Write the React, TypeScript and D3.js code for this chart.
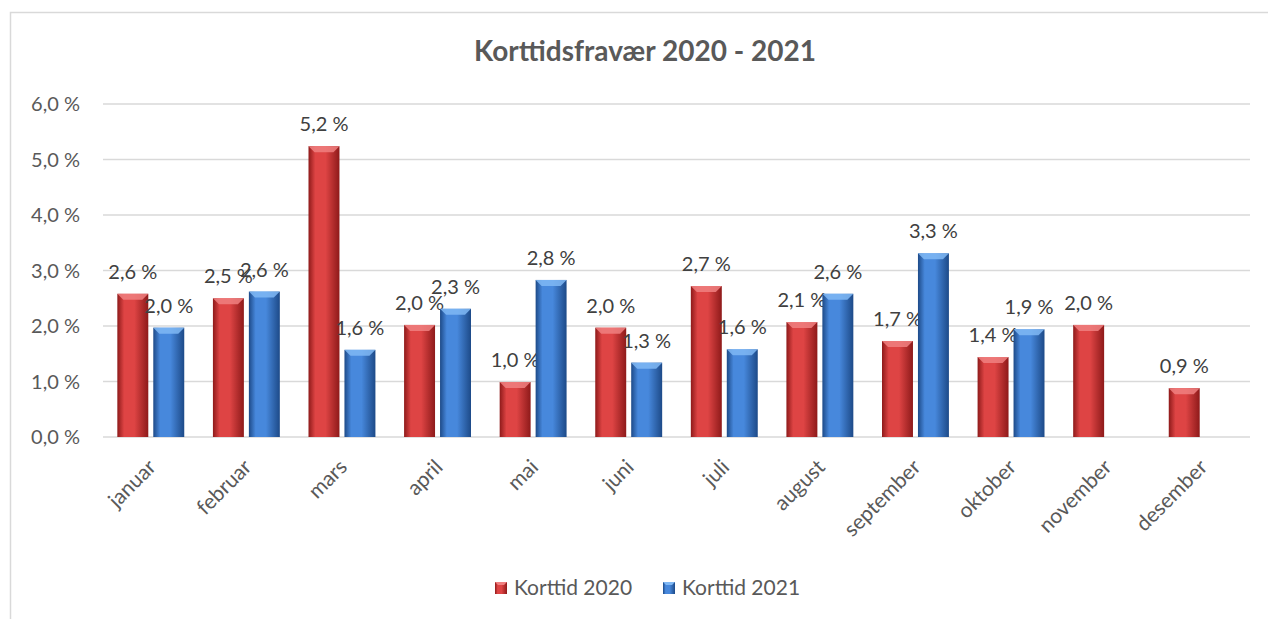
import React from "react";
import * as d3 from "d3";

const months = ["januar", "februar", "mars", "april", "mai", "juni", "juli", "august", "september", "oktober", "november", "desember"];
const series = ["Korttid 2020", "Korttid 2021"];
const values2020: (number | null)[] = [2.58, 2.5, 5.24, 2.02, 0.99, 1.97, 2.72, 2.07, 1.73, 1.44, 2.02, 0.88];
const values2021: (number | null)[] = [1.97, 2.62, 1.57, 2.31, 2.83, 1.34, 1.58, 2.58, 3.31, 1.94, null, null];
const yTicks = [0, 1, 2, 3, 4, 5, 6];

const W = 1268;
const H = 619;
const FONT = "Lato, 'Open Sans', sans-serif";

const colors = [
  { id: "g2020", edge: "#8e1a1a", mid: "#de4444", top: "#f08080" },
  { id: "g2021", edge: "#1d4a88", mid: "#4788dc", top: "#80b8f4" },
];

const fmt = (v: number) => v.toFixed(1).replace(".", ",") + " %";

export default function App() {
  const y = d3.scaleLinear().domain([0, 6]).range([437, 104]);
  const x0 = d3.scaleBand<string>().domain(months).range([103, 1250]).paddingInner(0.3).paddingOuter(0.15);
  const x1 = d3.scaleBand<string>().domain(series).range([0, x0.bandwidth()]).paddingInner(0.139);
  const data = [values2020, values2021];
  const bw = x1.bandwidth();

  return (
    <svg width={W} height={H} style={{ position: "absolute", left: 0, top: 0, background: "#fff" }} fontFamily={FONT}>
      <defs>
        {colors.map((c) => (
          <linearGradient key={c.id} id={c.id} x1="0" x2="1" y1="0" y2="0">
            <stop offset="0" stopColor={c.edge} />
            <stop offset="0.22" stopColor={c.mid} />
            <stop offset="0.55" stopColor={c.mid} />
            <stop offset="1" stopColor={c.edge} />
          </linearGradient>
        ))}
      </defs>
      <rect x={10.5} y={12.5} width={W} height={H} fill="#fff" stroke="#d9d9d9" strokeWidth={1.5} />
      <text x={645} y={61} textAnchor="middle" fontSize={28} fontWeight="bold" fill="#595959">
        Korttidsfravær 2020 - 2021
      </text>
      {yTicks.map((t) => (
        <g key={t}>
          <line x1={103} x2={1250} y1={y(t)} y2={y(t)} stroke="#d9d9d9" strokeWidth={1.5} />
          <text x={80} y={y(t)} dy="0.35em" textAnchor="end" fontSize={20} fill="#595959">
            {fmt(t)}
          </text>
        </g>
      ))}
      {months.map((m, i) => (
        <g key={m}>
          {data.map((vals, s) => {
            const v = vals[i];
            if (v == null) return null;
            const bx = (x0(m) as number) + (x1(series[s]) as number);
            const top = y(v);
            const c = colors[s];
            const bev = 6;
            return (
              <g key={s}>
                <rect x={bx} y={top} width={bw} height={y(0) - top} fill={`url(#${c.id})`} />
                <path
                  d={`M${bx},${top} L${bx + bw},${top} L${bx + bw - bev},${top + bev} L${bx + bev},${top + bev} Z`}
                  fill={c.top}
                  opacity={0.85}
                />
                <text x={bx + bw / 2} y={top - 15} textAnchor="middle" fontSize={20} fill="#404040">
                  {fmt(v)}
                </text>
              </g>
            );
          })}
          <text
            transform={`translate(${(x0(m) as number) + x0.bandwidth() / 2 - 4},458) rotate(-45)`}
            textAnchor="end"
            dy="0.7em"
            fontSize={21}
            fill="#595959"
          >
            {m}
          </text>
        </g>
      ))}
      {series.map((s, i) => {
        const lx = i === 0 ? 495 : 663;
        const c = colors[i];
        return (
          <g key={s}>
            <rect x={lx} y={582} width={12} height={12} fill={`url(#${c.id})`} />
            <path d={`M${lx},582 L${lx + 12},582 L${lx + 9},585 L${lx + 3},585 Z`} fill={c.top} />
            <text x={lx + 19} y={588} dy="0.35em" fontSize={21} fill="#595959">
              {s}
            </text>
          </g>
        );
      })}
    </svg>
  );
}
